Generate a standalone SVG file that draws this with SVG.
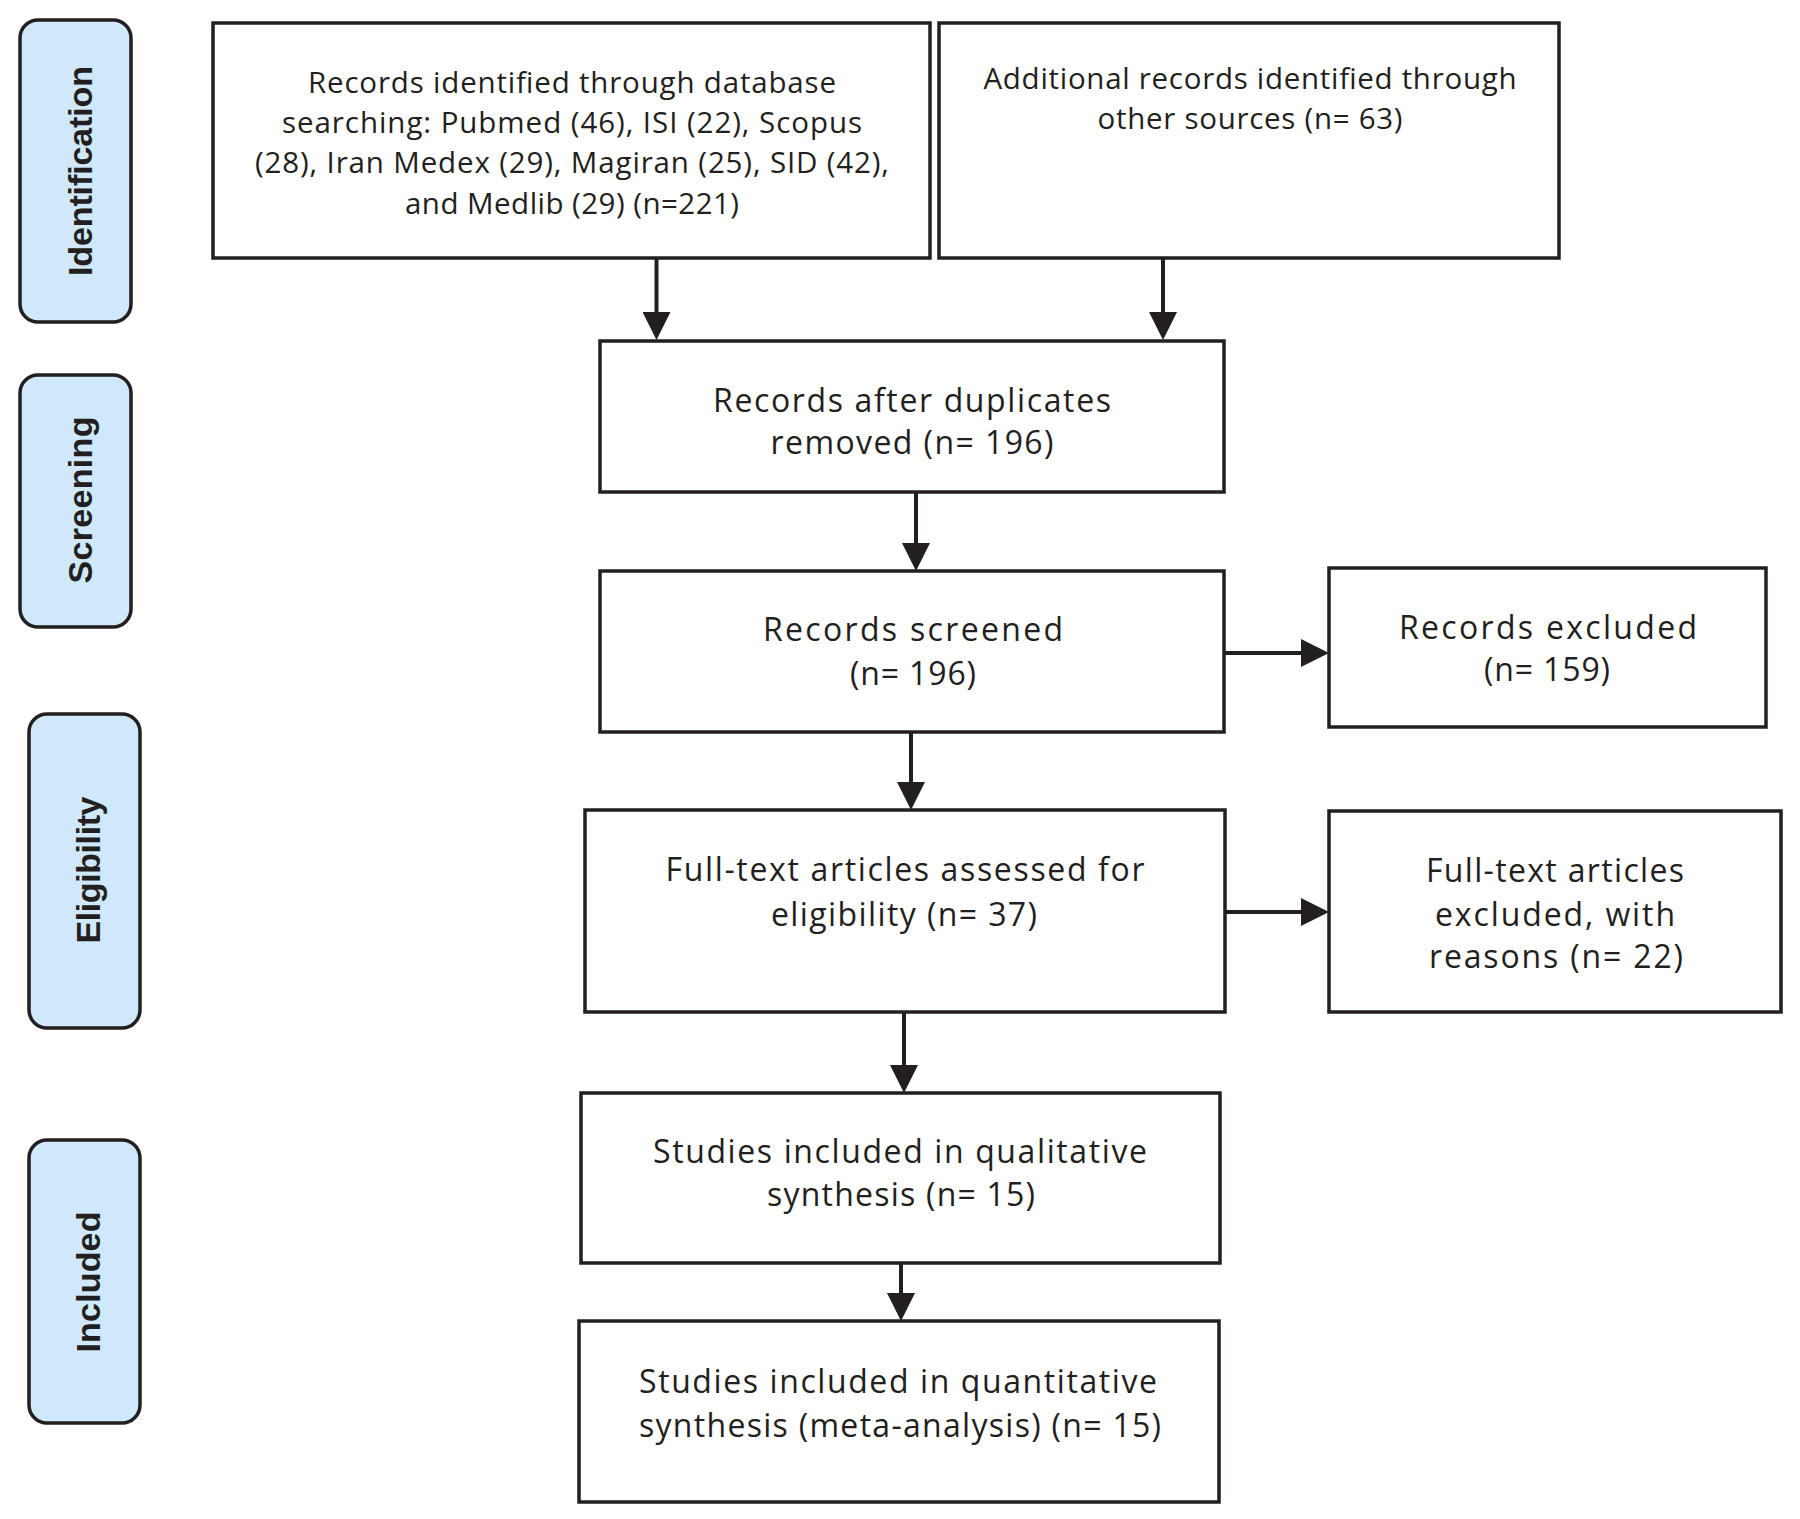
<svg xmlns="http://www.w3.org/2000/svg" width="1800" height="1519" viewBox="0 0 1800 1519">
<style>
.box{fill:#ffffff;stroke:#231f20;stroke-width:3.5}
.pill{fill:#cfe9fa;stroke:#231f20;stroke-width:3.5}
.t{font-family:"Open Sans","Liberation Sans",sans-serif;fill:#231f20;text-anchor:middle;font-size:32px}
.ts{font-size:29.5px}
.pt{font-family:"Liberation Sans","Arial",sans-serif;font-weight:bold;fill:#231f20;text-anchor:middle;font-size:34px}
.conn{stroke:#231f20;stroke-width:4;fill:none;marker-end:url(#ah)}
</style>
<defs>
<marker id="ah" markerUnits="userSpaceOnUse" markerWidth="28" markerHeight="28" refX="8" refY="14" orient="auto">
<path d="M0,0 L28,14 L0,28 z" fill="#231f20"/>
</marker>
</defs>
<rect width="1800" height="1519" fill="#ffffff"/>

<g id="stage-identification">
<rect class="pill" x="20" y="20" width="111" height="302" rx="18"/>
<text class="pt" transform="translate(92,171) rotate(-90)" textLength="210" lengthAdjust="spacing">Identification</text>
</g>
<g id="stage-screening">
<rect class="pill" x="20" y="375" width="111" height="252" rx="18"/>
<text class="pt" transform="translate(92,500) rotate(-90)" textLength="167" lengthAdjust="spacing">Screening</text>
</g>
<g id="stage-eligibility">
<rect class="pill" x="29" y="714" width="111" height="314" rx="18"/>
<text class="pt" transform="translate(100,870) rotate(-90)" textLength="147" lengthAdjust="spacing">Eligibility</text>
</g>
<g id="stage-included">
<rect class="pill" x="29" y="1140" width="111" height="283" rx="18"/>
<text class="pt" transform="translate(100,1282) rotate(-90)" textLength="141" lengthAdjust="spacing">Included</text>
</g>

<g id="connectors">
<line class="conn" x1="656.5" y1="258" x2="656.5" y2="320"/>
<line class="conn" x1="1163" y1="258" x2="1163" y2="320"/>
<line class="conn" x1="916" y1="492" x2="916" y2="551"/>
<line class="conn" x1="1224" y1="653" x2="1309" y2="653"/>
<line class="conn" x1="911" y1="732" x2="911" y2="790"/>
<line class="conn" x1="1225" y1="912" x2="1309" y2="912"/>
<line class="conn" x1="904" y1="1013" x2="904" y2="1073"/>
<line class="conn" x1="901" y1="1263" x2="901" y2="1301"/>
</g>

<g id="node-database">
<rect class="box" x="213" y="23" width="717" height="235"/>
<text class="t ts" x="572" y="92.5" textLength="528" lengthAdjust="spacing">Records identified through database</text>
<text class="t ts" x="572" y="133" textLength="580" lengthAdjust="spacing">searching: Pubmed (46), ISI (22), Scopus</text>
<text class="t ts" x="572" y="173" textLength="634" lengthAdjust="spacing">(28), Iran Medex (29), Magiran (25), SID (42),</text>
<text class="t ts" x="572" y="213.5" textLength="334" lengthAdjust="spacing">and Medlib (29) (n=221)</text>
</g>

<g id="node-other">
<rect class="box" x="939" y="23" width="620" height="235"/>
<text class="t ts" x="1250" y="89" textLength="533" lengthAdjust="spacing">Additional records identified through</text>
<text class="t ts" x="1250" y="128.5" textLength="305" lengthAdjust="spacing">other sources (n= 63)</text>
</g>

<g id="node-duplicates">
<rect class="box" x="600" y="341" width="624" height="151"/>
<text class="t" x="912" y="412" textLength="398" lengthAdjust="spacing">Records after duplicates</text>
<text class="t" x="912" y="454" textLength="283" lengthAdjust="spacing">removed (n= 196)</text>
</g>

<g id="node-screened">
<rect class="box" x="600" y="571" width="624" height="161"/>
<text class="t" x="913" y="641" textLength="300" lengthAdjust="spacing">Records screened</text>
<text class="t" x="913" y="685" textLength="126" lengthAdjust="spacing">(n= 196)</text>
</g>

<g id="node-excluded">
<rect class="box" x="1329" y="568" width="437" height="159"/>
<text class="t" x="1548" y="639" textLength="298" lengthAdjust="spacing">Records excluded</text>
<text class="t" x="1547" y="681" textLength="126" lengthAdjust="spacing">(n= 159)</text>
</g>

<g id="node-fulltext">
<rect class="box" x="585" y="810" width="640" height="202"/>
<text class="t" x="905" y="881" textLength="479" lengthAdjust="spacing">Full-text articles assessed for</text>
<text class="t" x="904" y="926" textLength="266" lengthAdjust="spacing">eligibility (n= 37)</text>
</g>

<g id="node-fulltext-excluded">
<rect class="box" x="1329" y="811" width="452" height="201"/>
<text class="t" x="1555" y="882" textLength="258" lengthAdjust="spacing">Full-text articles</text>
<text class="t" x="1555" y="926" textLength="240" lengthAdjust="spacing">excluded, with</text>
<text class="t" x="1556" y="968" textLength="254" lengthAdjust="spacing">reasons (n= 22)</text>
</g>

<g id="node-qualitative">
<rect class="box" x="581" y="1093" width="639" height="170"/>
<text class="t" x="900" y="1163" textLength="494" lengthAdjust="spacing">Studies included in qualitative</text>
<text class="t" x="901" y="1206" textLength="268" lengthAdjust="spacing">synthesis (n= 15)</text>
</g>

<g id="node-quantitative">
<rect class="box" x="579" y="1321" width="640" height="181"/>
<text class="t" x="898" y="1393" textLength="518" lengthAdjust="spacing">Studies included in quantitative</text>
<text class="t" x="900" y="1437" textLength="522" lengthAdjust="spacing">synthesis (meta-analysis) (n= 15)</text>
</g>
</svg>
